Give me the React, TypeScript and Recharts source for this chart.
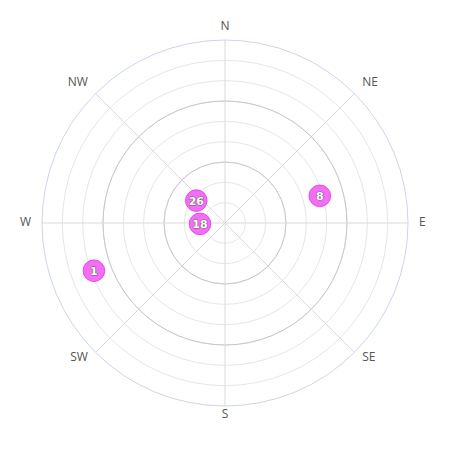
import { PolarAngleAxis, PolarGrid, PolarRadiusAxis, Radar, RadarChart } from 'recharts';

// compass directions shown round the rim (bearing in degrees)
const directionBearings = [0, 45, 90, 135, 180, 225, 270, 315];
const directionNames = ['N', 'NE', 'E', 'SE', 'S', 'SW', 'W', 'NW'];

// radius rings (0..90), every third one is drawn darker
const radiusTicks = [0, 10, 20, 30, 40, 50, 60, 70, 80, 90];
const majorRings = [30, 60];

// bubbles
const pointLabels = ['26', '18', '8', '1'];
const pointBearings = [308, 268, 74, 250];
const pointDistances = [17.9, 12.3, 48.5, 68.6];

const data = pointLabels.map((label, i) => ({
  label,
  bearing: pointBearings[i],
  distance: pointDistances[i],
}));

const OUTER = 183;
const ringPx = (v: number) => (v / radiusTicks[radiusTicks.length - 1]) * OUTER;

// eslint-disable-next-line @typescript-eslint/no-explicit-any
function DirectionTick(props: any) {
  const { x, y, textAnchor, payload } = props;
  const bearing = payload?.value;
  const name = directionNames[directionBearings.indexOf(bearing)] ?? '';
  // E and W sit a little lower than the rest
  const shift = bearing === 90 || bearing === 270 ? -1.5 : -4;
  return (
    <text
      x={x}
      y={y + shift}
      textAnchor={textAnchor}
      dominantBaseline="central"
      fill="#555"
      fontSize={12}
      fontFamily="'Open Sans', sans-serif"
    >
      {name}
    </text>
  );
}

// eslint-disable-next-line @typescript-eslint/no-explicit-any
function Bubble(props: any) {
  const { cx, cy, index } = props;
  if (cx == null || cy == null) return null;
  return (
    <g key={`b-${index}`}>
      <circle cx={cx} cy={cy} r={10.8} fill="#f46ef4" stroke="#e848e8" strokeWidth={1} />
      <text
        x={cx}
        y={cy}
        dy="0.36em"
        textAnchor="middle"
        fontFamily="'DejaVu Sans', sans-serif"
        fontWeight="bold"
        fontSize={11}
        fill="#ffffff"
        stroke="#666"
        strokeWidth={1.1}
        strokeLinejoin="round"
        style={{ paintOrder: 'stroke' }}
      >
        {pointLabels[index]}
      </text>
    </g>
  );
}

export default function App() {
  return (
    <RadarChart
      width={434}
      height={434}
      data={data}
      cx={217}
      cy={215}
      outerRadius={OUTER}
      startAngle={90}
      endAngle={-270}
      margin={{ top: 0, right: 0, bottom: 0, left: 0 }}
    >
      <PolarGrid gridType="circle" stroke="#e6e6e6" polarRadius={radiusTicks.slice(1, -1).map(ringPx)} polarAngles={[]} />
      <PolarGrid gridType="circle" stroke="#c8c8cc" polarRadius={majorRings.map(ringPx)} polarAngles={[]} />
      <PolarGrid gridType="circle" stroke="#dadada" radialLines polarRadius={[]} />
      <PolarAngleAxis
        dataKey="bearing"
        type="number"
        domain={[0, 360]}
        ticks={directionBearings}
        axisLineType="circle"
        axisLine={{ stroke: '#ccd6eb' }}
        tickLine={false}
        tickSize={11}
        tick={DirectionTick}
      />
      <PolarRadiusAxis domain={[0, 90]} ticks={radiusTicks} tick={false} axisLine={false} />
      <Radar
        dataKey="distance"
        fill="none"
        stroke="none"
        dot={Bubble}
        isAnimationActive={false}
      />
    </RadarChart>
  );
}
